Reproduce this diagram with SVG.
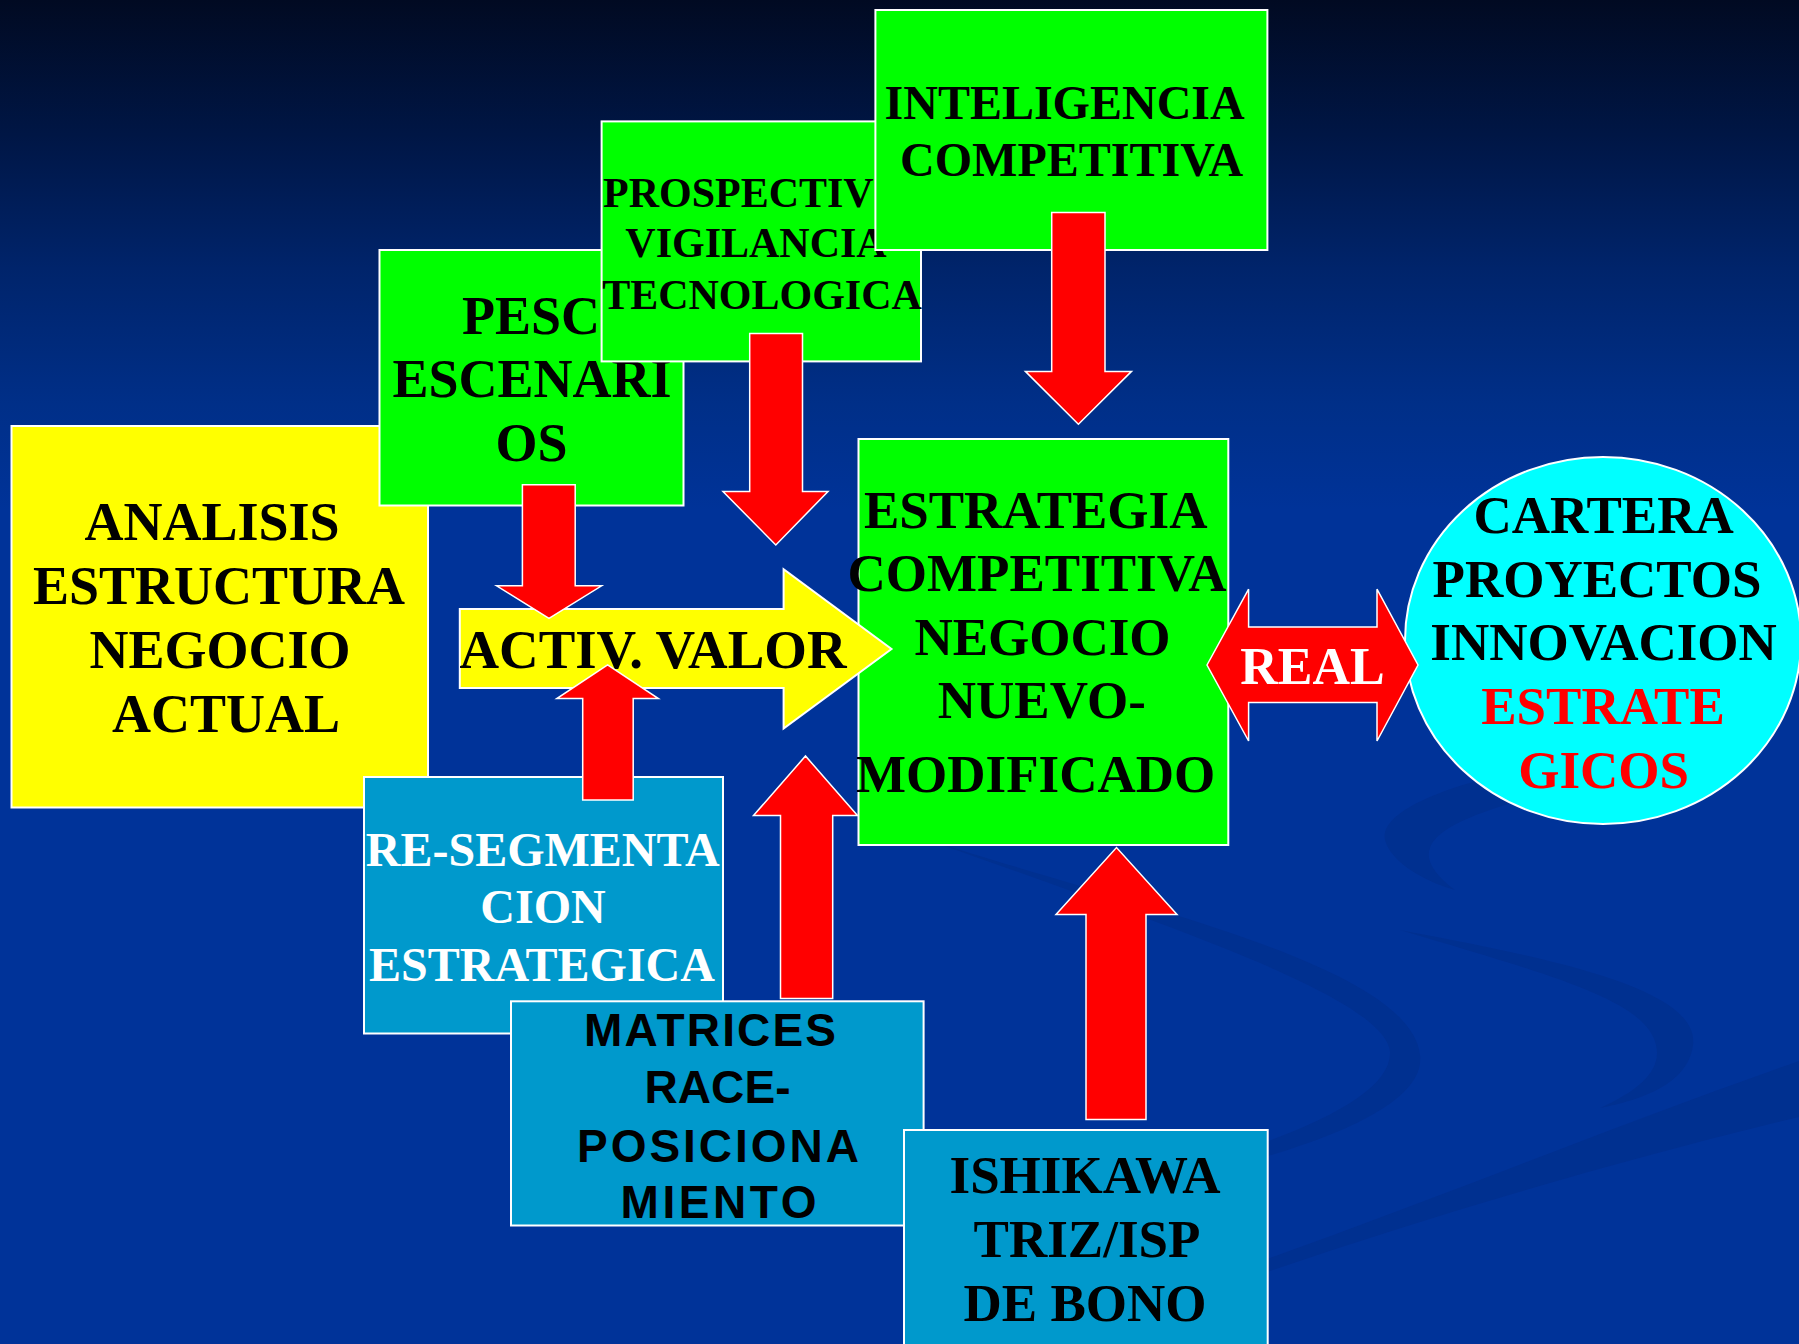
<svg xmlns="http://www.w3.org/2000/svg" width="1799" height="1344" viewBox="0 0 1799 1344">
  <defs>
    <linearGradient id="sky" x1="0" y1="0" x2="0" y2="1344" gradientUnits="userSpaceOnUse">
      <stop offset="0" stop-color="#010a22"/>
      <stop offset="0.1" stop-color="#001645"/>
      <stop offset="0.2" stop-color="#00246b"/>
      <stop offset="0.3" stop-color="#002f88"/>
      <stop offset="0.38" stop-color="#003399"/>
      <stop offset="1" stop-color="#003399"/>
    </linearGradient>
  </defs>
  <style>
    .box { stroke: #ffffff; stroke-width: 2; }
    .green { fill: #00ff00; }
    .yellow { fill: #ffff00; }
    .teal { fill: #0099cc; }
    .cyan { fill: #00ffff; }
    .arrow { fill: #ff0000; stroke: #ffffff; stroke-width: 1.5; stroke-linejoin: miter; }
    .serif { font-family: "Liberation Serif", "Times New Roman", serif; font-weight: bold; text-anchor: middle; fill: #000000; }
    .sans { font-family: "Liberation Sans", Arial, sans-serif; font-weight: bold; fill: #000000; }
    .white { fill: #ffffff; }
    .red { fill: #ff0000; }
    .swoosh { fill: #003090; }
  </style>

  <!-- backdrop with faint darker swooshes -->
  <g id="background">
    <rect x="0" y="0" width="1799" height="1344" fill="url(#sky)"/>
    <path class="swoosh" d="M 900,830 C 1100,900 1410,960 1420,1055 C 1428,1120 1250,1170 1050,1205 C 1230,1160 1392,1110 1390,1052 C 1385,995 1150,920 900,830 Z"/>
    <path class="swoosh" d="M 1400,930 C 1560,960 1700,990 1693,1045 C 1688,1085 1640,1100 1600,1108 C 1640,1090 1662,1070 1656,1045 C 1646,1000 1550,975 1400,930 Z"/>
    <path class="swoosh" d="M 1520,770 C 1430,790 1380,815 1385,840 C 1390,860 1420,880 1455,890 C 1435,875 1425,860 1430,848 C 1436,830 1470,812 1560,790 Z"/>
    <path class="swoosh" d="M 1150,1300 C 1400,1215 1600,1130 1799,1061 L 1799,1117 C 1600,1165 1400,1225 1200,1295 Z"/>
  </g>

  <!-- nodes -->
  <g id="analisis">
    <rect class="box yellow" x="11.5" y="426" width="416.5" height="381.5"/>
    <text class="serif" font-size="54" x="212" y="540">ANALISIS</text>
    <text class="serif" font-size="54" x="219" y="604">ESTRUCTURA</text>
    <text class="serif" font-size="54" x="220" y="668">NEGOCIO</text>
    <text class="serif" font-size="54" x="226" y="732">ACTUAL</text>
  </g>

  <g id="pesc">
    <rect class="box green" x="379.5" y="250" width="304" height="255.5"/>
    <text class="serif" font-size="54" x="531" y="334">PESC</text>
    <text class="serif" font-size="54" x="532" y="397">ESCENARI</text>
    <text class="serif" font-size="54" x="531.6" y="461">OS</text>
  </g>

  <g id="prospectiva">
    <rect class="box green" x="601.6" y="121.4" width="319.4" height="240"/>
    <text class="serif" font-size="42" x="603" y="206.5" style="text-anchor:start">PROSPECTIV</text>
    <text class="serif" font-size="42" x="756" y="257">VIGILANCIA</text>
    <text class="serif" font-size="42" x="762" y="309">TECNOLOGICA</text>
  </g>

  <g id="inteligencia">
    <rect class="box green" x="875.4" y="10" width="392" height="240"/>
    <text class="serif" font-size="48" x="1064.6" y="119">INTELIGENCIA</text>
    <text class="serif" font-size="48" x="1071.7" y="176">COMPETITIVA</text>
  </g>

  <g id="estrategia">
    <rect class="box green" x="858.5" y="439" width="369.8" height="406"/>
    <text class="serif" font-size="53" x="1035.7" y="527.8">ESTRATEGIA</text>
    <text class="serif" font-size="53" x="1037" y="590.8">COMPETITIVA</text>
    <text class="serif" font-size="53" x="1042.5" y="654.8">NEGOCIO</text>
    <text class="serif" font-size="53" x="1041.8" y="717.8">NUEVO-</text>
    <text class="serif" font-size="53" x="1035.7" y="792">MODIFICADO</text>
  </g>

  <g id="cartera">
    <ellipse class="box cyan" cx="1603" cy="640.5" rx="198" ry="183.5"/>
    <text class="serif" font-size="53" x="1603.6" y="532.8">CARTERA</text>
    <text class="serif" font-size="53" x="1597" y="596.5">PROYECTOS</text>
    <text class="serif" font-size="53" x="1603.6" y="660">INNOVACION</text>
    <text class="serif red" font-size="53" x="1603" y="723.5">ESTRATE</text>
    <text class="serif red" font-size="53" x="1603.6" y="787.5">GICOS</text>
  </g>

  <g id="resegmentacion">
    <rect class="box teal" x="364" y="777" width="359" height="256.5"/>
    <text class="serif white" font-size="48" x="542.7" y="866">RE-SEGMENTA</text>
    <text class="serif white" font-size="48" x="543" y="922.8">CION</text>
    <text class="serif white" font-size="48" x="542" y="980.5">ESTRATEGICA</text>
  </g>

  <g id="matrices">
    <rect class="box teal" x="511" y="1001.3" width="412.6" height="224.2"/>
    <text class="sans" font-size="46" x="584" y="1046" textLength="252" lengthAdjust="spacing">MATRICES</text>
    <text class="sans" font-size="46" x="644.5" y="1103.4" textLength="146" lengthAdjust="spacing">RACE-</text>
    <text class="sans" font-size="46" x="577" y="1161.5" textLength="282" lengthAdjust="spacing">POSICIONA</text>
    <text class="sans" font-size="46" x="620.5" y="1218" textLength="196" lengthAdjust="spacing">MIENTO</text>
  </g>

  <g id="ishikawa">
    <rect class="box teal" x="904" y="1130" width="363.7" height="230"/>
    <text class="serif" font-size="53" x="1085" y="1192.8">ISHIKAWA</text>
    <text class="serif" font-size="53" x="1087" y="1257.2">TRIZ/ISP</text>
    <text class="serif" font-size="53" x="1085" y="1320.5">DE BONO</text>
  </g>

  <g id="activ-valor">
    <polygon class="box yellow" stroke-width="1.5" points="459.8,609 783.6,609 783.6,569.3 891.5,649 783.6,728.5 783.6,688 459.8,688"/>
    <text class="serif" font-size="55" x="459.5" y="668" style="text-anchor:start" textLength="387" lengthAdjust="spacingAndGlyphs">ACTIV. VALOR</text>
  </g>

  <!-- connectors -->
  <g id="connectors">
    <polygon class="arrow" points="522.4,484.7 575.2,484.7 575.2,585.8 601.6,585.8 549,618.3 496.6,585.8 522.4,585.8"/>
    <polygon class="arrow" points="749.7,333.6 802.5,333.6 802.5,491.5 828,491.5 775.8,545 723,491.5 749.7,491.5"/>
    <polygon class="arrow" points="1051.7,212.5 1105,212.5 1105,371.4 1131.5,371.4 1078.4,424.3 1025.4,371.4 1051.7,371.4"/>
    <polygon class="arrow" points="582.7,800 633.2,800 633.2,698.6 658.4,698.6 607.6,664.8 556.8,698.6 582.7,698.6"/>
    <polygon class="arrow" points="780.5,998.4 832.7,998.4 832.7,815.5 857.5,815.5 805.5,756 753.5,815.5 780.5,815.5"/>
    <polygon class="arrow" points="1086,1119.4 1146,1119.4 1146,914.5 1177,914.5 1116.5,847.5 1056,914.5 1086,914.5"/>
    <g id="real">
      <polygon class="arrow" points="1207,665 1248.6,589.2 1248.6,627 1377,627 1377,589.2 1418,665 1377,741 1377,702.6 1248.6,702.6 1248.6,741"/>
      <text class="serif white" font-size="52" x="1312.5" y="683.7">REAL</text>
    </g>
  </g>
</svg>
